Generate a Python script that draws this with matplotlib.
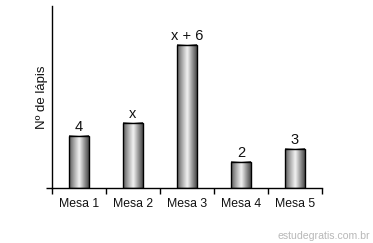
import numpy as np
import matplotlib
matplotlib.use("Agg")
import matplotlib.pyplot as plt
from matplotlib.colors import LinearSegmentedColormap

plt.rcParams['font.family'] = ['Liberation Sans', 'DejaVu Sans']

categories = ["Mesa 1", "Mesa 2", "Mesa 3", "Mesa 4", "Mesa 5"]
x_value = 5
values = [4, x_value, x_value + 6, 2, 3]
value_labels = ["4", "x", "x + 6", "2", "3"]
ylabel = "Nº de lápis"
watermark = "estudegratis.com.br"

W, H = 373, 243
fig = plt.figure(figsize=(W / 100, H / 100), dpi=100)
ax = fig.add_axes([52 / W, (H - 188) / H, (322 - 52) / W, (188 - 6) / H])

# cylinder-like gray shading across each bar
cmap = LinearSegmentedColormap.from_list(
    "cyl", [(0.0, "#5a5a5a"), (0.25, "#a8a8a8"), (0.52, "#f4f4f4"),
            (0.75, "#a0a0a0"), (1.0, "#4a4a4a")])
grad = np.linspace(0, 1, 64).reshape(1, -1)

bar_w = 0.37
xs = np.arange(len(categories))
for xi, v, lab in zip(xs, values, value_labels):
    x0, x1 = xi - bar_w / 2, xi + bar_w / 2
    ax.imshow(grad, cmap=cmap, extent=(x0, x1, 0, v), aspect="auto",
              interpolation="bicubic", zorder=2)
    ax.add_patch(plt.Rectangle((x0, 0), bar_w, v, fill=False,
                               edgecolor="black", linewidth=1.0, zorder=3))
    ax.text(xi, v + 0.15, lab, ha="center", va="bottom", fontsize=10.5,
            color="#111111")

ax.set_xlim(-0.5, len(categories) - 0.5)
ax.set_ylim(0, 14)

for s in ["top", "right"]:
    ax.spines[s].set_visible(False)
for s in ["left", "bottom"]:
    ax.spines[s].set_linewidth(1.0)
    ax.spines[s].set_color("black")

ax.set_yticks([0])
ax.set_yticklabels([])
ax.tick_params(axis="y", direction="out", length=4, width=1)

ax.set_xticks(xs)
ax.set_xticklabels(categories, fontsize=8.8, color="#111111")
ax.tick_params(axis="x", which="major", length=0, pad=7)
ax.set_xticks(np.arange(-0.5, len(categories)), minor=True)
ax.tick_params(axis="x", which="minor", direction="out", length=4, width=1)

ax.set_ylabel(ylabel, fontsize=9.5, color="#111111")
ax.yaxis.label.set_va("center")
ax.yaxis.set_label_coords(-10 / 270, 0.5)

fig.text(370 / W, 1 - 236 / H, watermark, ha="right", va="center",
         fontsize=7.6, color="#b8b8b8")

fig.savefig("out.png", dpi=100, facecolor="white")
